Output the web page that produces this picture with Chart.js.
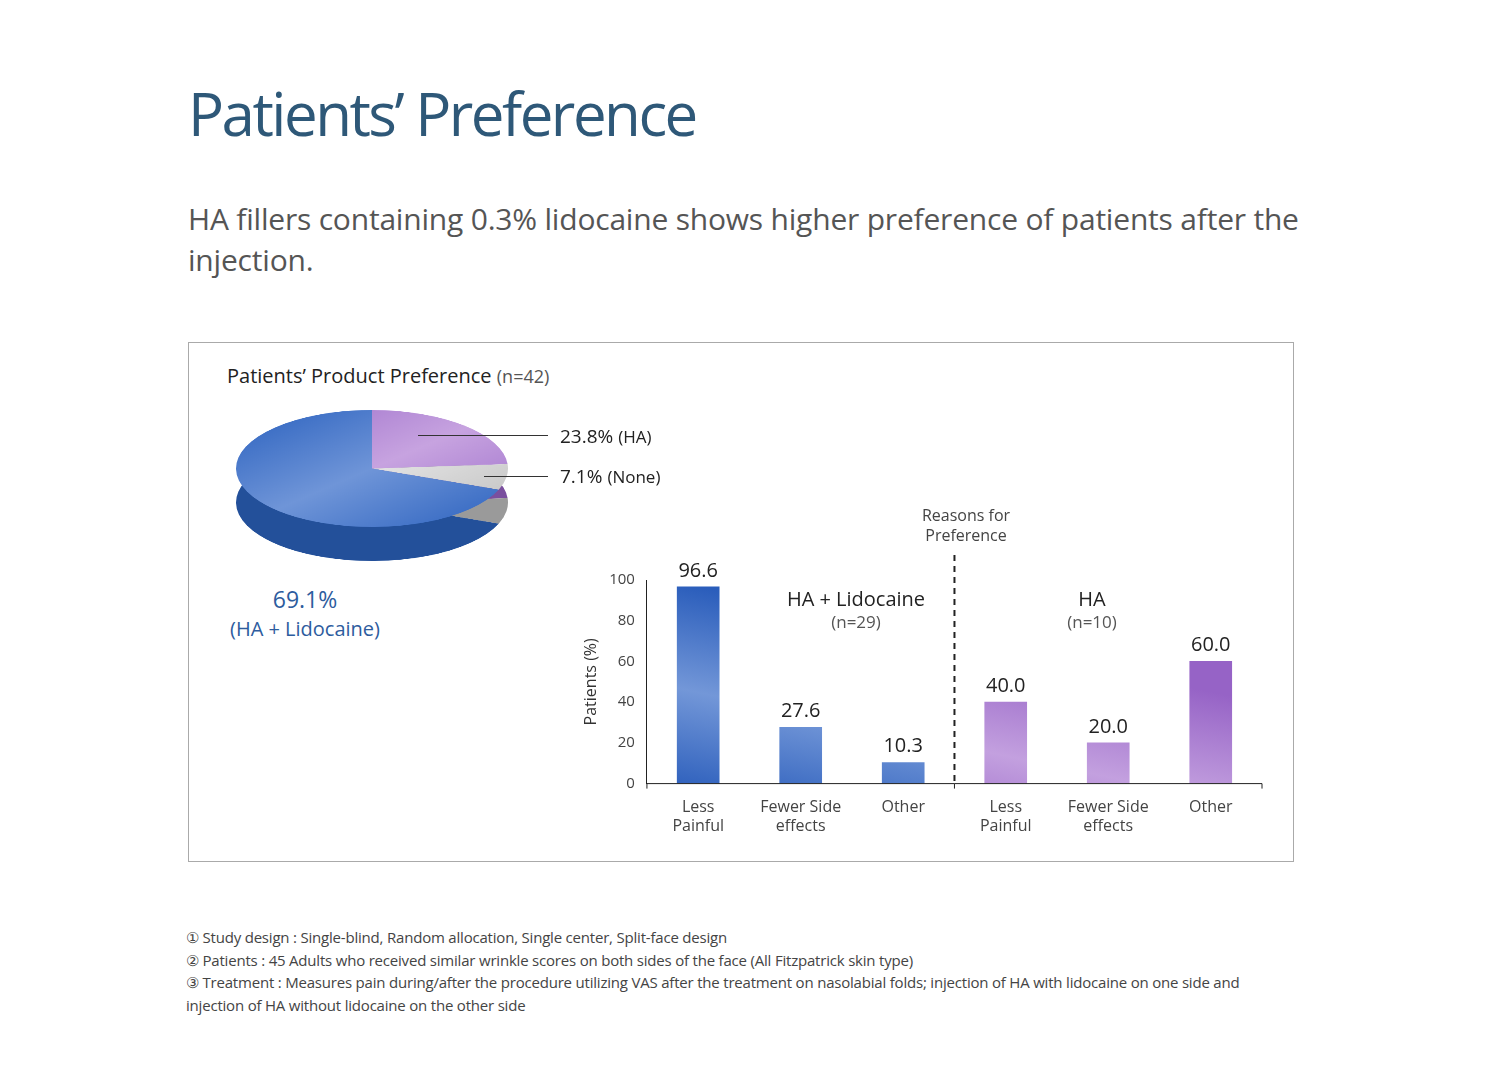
<!doctype html>
<html>
<head>
<meta charset="utf-8">
<script src="https://cdn.jsdelivr.net/npm/chart.js@4.4.0/dist/chart.umd.min.js"></script>
<style>
  body { margin:0; width:1489px; height:1087px; background:#fff; font-family:"Open Sans","Noto Sans",sans-serif; position:relative; overflow:hidden; }
  .abs { position:absolute; }
  h1 { position:absolute; left:188px; top:72px; margin:0; font-weight:400; font-size:60px; letter-spacing:-2.5px; color:#2e5878; }
  .sub { left:188px; top:198px; font-size:30px; line-height:41px; color:#555; width:1130px; letter-spacing:-0.2px; }
  .box { left:188px; top:342px; width:1104px; height:518px; border:1px solid #aaa; }
  .notes { left:186px; top:926px; font-size:15px; line-height:22.5px; color:#444; width:1110px; letter-spacing:-0.2px; }
  .lbl { font-size:19px; color:#222; white-space:nowrap; }
</style>
</head>
<body>
<h1>Patients’ Preference</h1>
<div class="abs sub">HA fillers containing 0.3% lidocaine shows higher preference of patients after the injection.</div>
<div class="abs box"></div>
<div class="abs lbl" style="left:227px;top:362px;font-size:20px;">Patients’ Product Preference <span style="color:#555;font-size:18px">(n=42)</span></div>

<div class="abs" style="left:236px;top:444px;width:272px;height:128px;overflow:hidden;">
  <canvas id="pieSide" width="272" height="272" style="width:272px;height:272px;transform:scaleY(0.43);transform-origin:0 0;"></canvas>
</div>
<div class="abs" style="left:236px;top:410px;width:272px;height:120px;overflow:hidden;">
  <canvas id="pie" width="272" height="272" style="width:272px;height:272px;transform:scaleY(0.43);transform-origin:0 0;"></canvas>
</div>
<div class="abs" style="left:418px;top:435px;width:130px;height:1px;background:#333"></div>
<div class="abs" style="left:484px;top:476px;width:64px;height:1px;background:#333"></div>
<div class="abs lbl" style="left:560px;top:423px;">23.8% <span style="font-size:17px">(HA)</span></div>
<div class="abs lbl" style="left:560px;top:463px;">7.1% <span style="font-size:17px">(None)</span></div>
<div class="abs" style="left:215px;top:585px;color:#2d5c9e;font-size:23px;line-height:28px;text-align:center;width:180px;white-space:nowrap;">69.1%<br><span style="font-size:20px">(HA + Lidocaine)</span></div>

<div class="abs" style="left:580px;top:500px;width:700px;height:350px;">
  <canvas id="bars"></canvas>
</div>
<div class="abs" style="left:900px;top:505px;width:132px;text-align:center;color:#444;font-size:16px;line-height:20px;background:#fff;">Reasons for<br>Preference</div>
<div class="abs" style="left:760px;top:588px;width:192px;text-align:center;font-size:20px;color:#222;line-height:22px;">HA + Lidocaine<br><span style="font-size:17px;color:#555">(n=29)</span></div>
<div class="abs" style="left:1040px;top:588px;width:104px;text-align:center;font-size:20px;color:#222;line-height:22px;">HA<br><span style="font-size:17px;color:#555">(n=10)</span></div>

<div class="abs notes">
① Study design : Single-blind, Random allocation, Single center, Split-face design<br>
② Patients : 45 Adults who received similar wrinkle scores on both sides of the face (All Fitzpatrick skin type)<br>
③ Treatment : Measures pain during/after the procedure utilizing VAS after the treatment on nasolabial folds; injection of HA with lidocaine on one side and injection of HA without lidocaine on the other side
</div>

<script>
  const pieLabels = ['HA', 'None', 'HA + Lidocaine'];
  const pieValues = [23.8, 7.1, 69.1];
  const barLabels = [['Less', 'Painful'], ['Fewer Side', 'effects'], 'Other', ['Less', 'Painful'], ['Fewer Side', 'effects'], 'Other'];
  const barValues = [96.6, 27.6, 10.3, 40.0, 20.0, 60.0];
  const barGroup = ['HA + Lidocaine', 'HA + Lidocaine', 'HA + Lidocaine', 'HA', 'HA', 'HA'];
  const yTicks = [0, 20, 40, 60, 80, 100];

  Chart.defaults.font.family = '"Open Sans","Noto Sans",sans-serif';

  const pieStops = [['#9b6cc9', '#c7a3e0'], ['#bdbdbd', '#e3e3e3'], ['#2c62bf', '#6f95d8']];
  function pieGrad(c) {
    const s = pieStops[c.dataIndex] || pieStops[2];
    const g = c.chart.ctx.createLinearGradient(0, 0, 272, 272);
    g.addColorStop(0, s[0]); g.addColorStop(0.5, s[1]); g.addColorStop(1, s[0]);
    return g;
  }
  new Chart(document.getElementById('pieSide'), {
    type: 'pie',
    data: { labels: pieLabels, datasets: [{ data: pieValues, backgroundColor: ['#7a4f9e', '#9a9a9a', '#23509a'], borderWidth: 0 }] },
    options: { responsive: false, animation: false, plugins: { legend: { display: false }, tooltip: { enabled: false } } }
  });
  new Chart(document.getElementById('pie'), {
    type: 'pie',
    data: { labels: pieLabels, datasets: [{ data: pieValues, borderWidth: 0, backgroundColor: pieGrad }] },
    options: { responsive: false, animation: false, plugins: { legend: { display: false }, tooltip: { enabled: false } } }
  });

  function barGrad(c) {
    const ch = c.chart, area = ch.chartArea;
    const purple = barGroup[c.dataIndex] === 'HA';
    if (!area || !isFinite(area.bottom)) return purple ? '#a77ad0' : '#3a6cc4';
    const el = ch.getDatasetMeta(0).data[c.dataIndex];
    const x = el && isFinite(el.x) ? el.x : area.left;
    const g = ch.ctx.createLinearGradient(x - 21, area.bottom, x + 21, area.top);
    if (purple) {
      g.addColorStop(0, '#9663c6'); g.addColorStop(0.5, '#c3a0df'); g.addColorStop(1, '#9663c6');
    } else {
      g.addColorStop(0, '#2a5dbb'); g.addColorStop(0.5, '#7397d8'); g.addColorStop(1, '#2a5dbb');
    }
    return g;
  }

  const extras = {
    id: 'extras',
    afterDatasetsDraw(chart) {
      const ctx = chart.ctx, meta = chart.getDatasetMeta(0), a = chart.chartArea;
      ctx.save();
      ctx.fillStyle = '#222'; ctx.font = '20px "Open Sans","Noto Sans",sans-serif';
      ctx.textAlign = 'center'; ctx.textBaseline = 'bottom';
      meta.data.forEach((b, i) => ctx.fillText(barValues[i].toFixed(1), b.x, b.y - 6));
      const xm = (meta.data[2].x + meta.data[3].x) / 2;
      ctx.strokeStyle = '#222'; ctx.lineWidth = 2; ctx.setLineDash([6, 5]);
      ctx.beginPath(); ctx.moveTo(xm, 55); ctx.lineTo(xm, a.bottom); ctx.stroke();
      ctx.setLineDash([]); ctx.lineWidth = 1;
      ctx.beginPath();
      ctx.moveTo(a.left, a.bottom); ctx.lineTo(a.right, a.bottom);
      [a.left, xm, a.right].forEach(x => { ctx.moveTo(x, a.bottom); ctx.lineTo(x, a.bottom + 5); });
      ctx.stroke();
      ctx.restore();
    }
  };

  new Chart(document.getElementById('bars'), {
    type: 'bar',
    data: { labels: barLabels, datasets: [{ data: barValues, backgroundColor: barGrad, barThickness: 42 }] },
    options: {
      responsive: true, maintainAspectRatio: false, animation: false,
      layout: { padding: { top: 80, right: 18, left: 0 } },
      plugins: { legend: { display: false }, tooltip: { enabled: false } },
      scales: {
        x: { grid: { display: false, drawTicks: false }, border: { display: false },
             ticks: { color: '#444', font: { size: 16 }, padding: 14, maxRotation: 0 } },
        y: { min: 0, max: 100, afterBuildTicks: s => { s.ticks = yTicks.map(v => ({ value: v })); },
             grid: { display: false, drawTicks: true, tickLength: 6, color: '#222' }, border: { color: '#222' },
             ticks: { color: '#444', font: { size: 15 }, padding: 6 },
             title: { display: true, text: 'Patients (%)', color: '#333', font: { size: 16 }, padding: 2 } }
      }
    },
    plugins: [extras]
  });
</script>
</body>
</html>
